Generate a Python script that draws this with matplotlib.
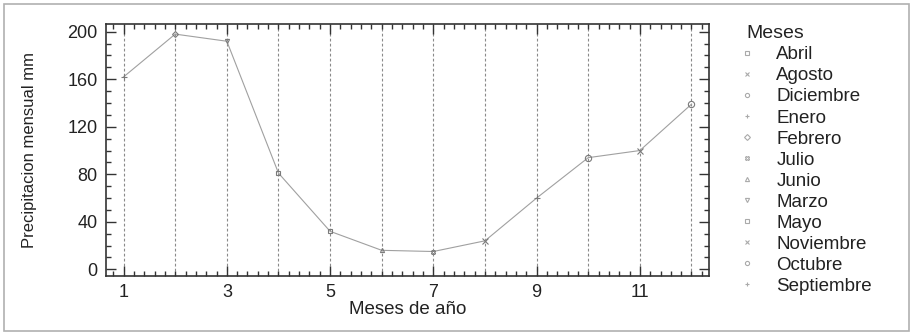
import matplotlib
matplotlib.use("Agg")
import matplotlib.pyplot as plt
from matplotlib.patches import Rectangle
from matplotlib.ticker import MultipleLocator

plt.rcParams["font.family"] = ["Liberation Sans", "DejaVu Sans"]

# ── Data ─────────────────────────────────────────────────────────────────────
meses_num = [1, 2, 3, 4, 5, 6, 7, 8, 9, 10, 11, 12]
meses_nombre = ["Enero", "Febrero", "Marzo", "Abril", "Mayo", "Junio",
                "Julio", "Agosto", "Septiembre", "Octubre", "Noviembre", "Diciembre"]
precip = [162, 198, 192, 81, 32, 16, 15, 24, 60, 94, 100, 139]
marcadores = ["+", "D", "v", "s", "s", "^", "X", "x", "+", "o", "x", "o"]

LINE = "#a0a0a0"
MARK = "#7a7a7a"
GRID = "#8a8a8a"
AXC = "#333333"
TXT = "#222222"

fig = plt.figure(figsize=(9.11, 3.34), dpi=100)
ax = fig.add_axes([0.1164, 0.1737, 0.6619, 0.7544])

ax.plot(meses_num, precip, color=LINE, lw=0.8, zorder=2)
handles = {}
for x, y, m, n in zip(meses_num, precip, marcadores, meses_nombre):
    ms = 3 if m in ("D", "s", "^", "v", "X") else 4.5
    h, = ax.plot([x], [y], linestyle="none", marker=m, ms=ms, mfc="none",
                 mec=MARK, mew=0.8, zorder=3, label=n)
    handles[n] = h

# vertical dashed grid at each month
for x in meses_num:
    ax.axvline(x, color=GRID, lw=0.8, ls=(0, (2.5, 2)), zorder=1)

ax.set_xlim(0.66, 12.34)
ax.set_ylim(-5.6, 206.5)
ax.xaxis.set_minor_locator(MultipleLocator(0.2))
ax.yaxis.set_major_locator(MultipleLocator(40))
ax.yaxis.set_minor_locator(MultipleLocator(10))
ax.set_xticks([1, 3, 5, 7, 9, 11])
ax.tick_params(which="both", direction="in", top=True, right=True,
               colors=AXC, labelcolor=TXT, labelsize=13)
ax.tick_params(which="major", length=7, width=1)
ax.tick_params(which="minor", length=3.5, width=1)
ax.tick_params(axis="x", which="major", pad=6)
ax.tick_params(axis="y", which="major", pad=6)
for s in ax.spines.values():
    s.set_color(AXC)
    s.set_linewidth(1.2)

ax.set_xlabel("Meses de año", fontsize=13.5, color=TXT, labelpad=0)
ax.set_ylabel("Precipitacion mensual mm", fontsize=12, color=TXT, labelpad=22)

orden = sorted(meses_nombre)
leg = ax.legend([handles[n] for n in orden], orden, title="Meses",
                loc="upper left", bbox_to_anchor=(1.062, 0.995), frameon=False,
                fontsize=13.5, title_fontsize=14, alignment="left",
                handlelength=0.1, handletextpad=1.5, labelspacing=0.21,
                borderaxespad=0, borderpad=0)
for lh in leg.legend_handles:
    lh.set_markeredgecolor("#aaaaaa")
    lh.set_markersize(3)
for t in leg.get_texts():
    t.set_color(TXT)
leg.get_title().set_color(TXT)

# outer frame
fig.patches.append(Rectangle((0.004, 0.008), 0.994, 0.98, transform=fig.transFigure,
                             fill=False, edgecolor="#b0b0b0", lw=1.2))

fig.savefig("out.png", dpi=100, facecolor="white")
